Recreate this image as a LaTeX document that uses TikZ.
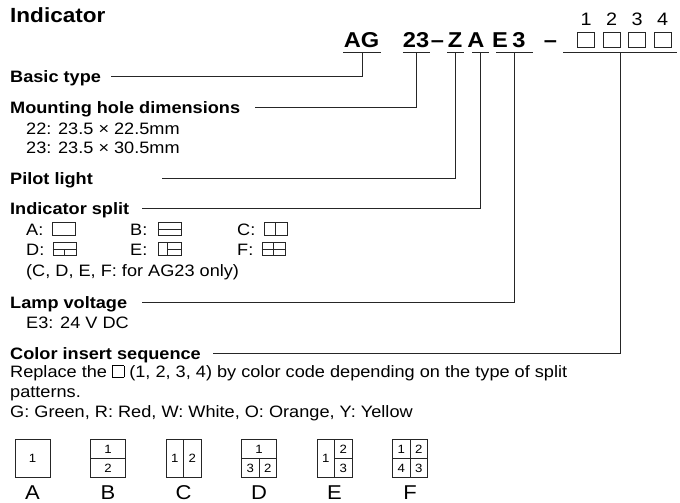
\documentclass[tikz,border=0pt]{standalone}
\usepackage{fontspec}
\setmainfont{Liberation Sans}[FakeStretch=1.1]
\usetikzlibrary{positioning}
\newcommand{\opensq}{{\setlength{\fboxsep}{0pt}\setlength{\fboxrule}{0.6pt}\fbox{\rule{0pt}{11pt}\hspace{11pt}}}}
\tikzset{
  partlabel/.style = {
    font=\bfseries\fontsize{16.5}{19}\selectfont,
    inner sep=0pt,
    text height=11.8pt,
    text depth=0pt,
    anchor=base west
  },
  parttext/.style = {
    font=\fontsize{16.5}{19}\selectfont,
    inner sep=0pt,
    anchor=base west
  },
  codepart/.style = {
    font=\bfseries\fontsize{21.5}{25}\selectfont,
    inner sep=0pt,
    anchor=base
  },
  codeline/.style = {
    inner sep=0pt,
    minimum height=0pt,
    minimum width=#1
  },
  codebox/.style = {
    draw=black!85,
    line width=0.8pt,
    minimum width=17pt,
    minimum height=15pt,
    inner sep=0pt
  },
  leader/.style = {
    draw=black!85,
    line width=1pt
  },
  splitbox/.style = {
    draw=black!85,
    line width=0.8pt,
    minimum width=23pt,
    minimum height=13pt,
    inner sep=0pt
  },
  patbox/.style = {
    draw=black!85,
    line width=0.8pt,
    minimum width=35pt,
    minimum height=38pt,
    inner sep=0pt
  },
  patnum/.style = {
    font=\fontsize{12}{14}\selectfont,
    inner sep=0pt
  },
  patname/.style = {
    font=\fontsize{20}{24}\selectfont,
    inner sep=0pt,
    anchor=base
  }
}

\begin{document}
\begin{tikzpicture}[x=1pt,y=-1pt]
    \useasboundingbox (0,0) rectangle (680,503);
    \node[font=\bfseries\fontsize{20.5}{24}\selectfont, inner sep=0pt, anchor=base west] (title) at (10,23) {Indicator};

    % type code
    \node[codepart] (cAG) at (361.5,48) {AG};
    \node[codepart] (c23) at (416,48) {23};
    \node[codepart] (cdash) at (437.5,48) {–};
    \node[codepart] (cZ) at (455,48) {Z};
    \node[codepart] (cA) at (476,48) {A};
    \node[codepart] (cE) at (500,48) {E};
    \node[codepart] (c3) at (519,48) {3};
    \node[codepart] (cdash2) at (550.5,48) {–};
    \foreach \i in {1,...,4} {
      \node[codebox] (cb\i) at ({586+25.5*(\i-1)},39.5) {};
      \node[font=\fontsize{18}{21}\selectfont, inner sep=0pt, above=6pt of cb\i] (dg\i) {\i};
    }
    \node[codeline=37pt] (ulAG) at (362,53) {};
    \node[codeline=27pt] (ul23) at (416.5,53) {};
    \node[codeline=16pt] (ulZ) at (455.5,53) {};
    \node[codeline=16pt] (ulA) at (480.5,53) {};
    \node[codeline=36pt] (ulE) at (514.5,53) {};
    \node[codeline=113pt] (ulBox) at (620,53) {};
    \foreach \u in {ulAG,ul23,ulZ,ulA,ulE,ulBox}
      \draw[leader] (\u.west) -- (\u.east);

    % items
    \node[partlabel] (basic) at (10,82) {Basic type};
    \node[partlabel] (mount) at (10,113) {Mounting hole dimensions};
    \node[parttext] (mount22) at (26,134) {22: 23.5 × 22.5mm};
    \node[parttext] (mount23) at (26,153) {23: 23.5 × 30.5mm};
    \node[partlabel] (pilot) at (10,184) {Pilot light};
    \node[partlabel] (split) at (10,214) {Indicator split};
    \node[parttext] (labA) at (26,235) {A:};
    \node[parttext] (labB) at (130,235) {B:};
    \node[parttext] (labC) at (237,235) {C:};
    \node[parttext] (labD) at (26,255) {D:};
    \node[parttext] (labE) at (130,255) {E:};
    \node[parttext] (labF) at (237,255) {F:};
    \node[splitbox, right=8pt of labA] (icA) {};
    \node[splitbox, right=10pt of labB] (icB) {};
    \node[splitbox, right=8pt of labC] (icC) {};
    \node[splitbox, right=8pt of labD] (icD) {};
    \node[splitbox, right=10pt of labE] (icE) {};
    \node[splitbox, right=8pt of labF] (icF) {};
    \draw[leader, line width=0.8pt] (icB.west) -- (icB.east);
    \draw[leader, line width=0.8pt] (icC.north) -- (icC.south);
    \draw[leader, line width=0.8pt] (icD.west) -- (icD.east) (icD.center) -- (icD.south);
    \draw[leader, line width=0.8pt] ([xshift=-2pt]icE.north) -- ([xshift=-2pt]icE.south) ([xshift=-2pt]icE.center) -- (icE.east);
    \draw[leader, line width=0.8pt] (icF.west) -- (icF.east) (icF.north) -- (icF.south);
    \node[parttext] (splitnote) at (26,276) {(C, D, E, F: for AG23 only)};
    \node[partlabel] (lamp) at (10,308) {Lamp voltage};
    \node[parttext] (lampE3) at (26,328) {E3: 24 V DC};
    \node[partlabel] (color) at (10,359) {Color insert sequence};
    \node[parttext] (color1) at (10,377) {Replace the \opensq\ (1, 2, 3, 4) by color code depending on the type of split};
    \node[parttext] (color2) at (10,397) {patterns.};
    \node[parttext] (color3) at (10,417) {G: Green, R: Red, W: White, O: Orange, Y: Yellow};

    \draw[leader] ([xshift=10pt]basic.east) -| (ulAG);
    \draw[leader] ([xshift=15pt]mount.east) -| (ul23);
    \draw[leader] ([xshift=69pt]pilot.east) -| (ulZ);
    \draw[leader] ([xshift=13pt]split.east) -| (ulA);
    \draw[leader] ([xshift=15pt]lamp.east) -| (ulE);
    \draw[leader] ([xshift=12pt]color.east) -| (ulBox);

    % split patterns
    \node[patbox] (patA) at (32.5,458.5) {};
    \node[patbox] (patB) at (108,458.5) {};
    \node[patbox] (patC) at (183.5,458.5) {};
    \node[patbox] (patD) at (259,458.5) {};
    \node[patbox] (patE) at (334.5,458.5) {};
    \node[patbox] (patF) at (410,458.5) {};
    \draw[leader, line width=0.8pt] (patB.west) -- (patB.east);
    \draw[leader, line width=0.8pt] (patC.north) -- (patC.south);
    \draw[leader, line width=0.8pt] (patD.west) -- (patD.east) (patD.center) -- (patD.south);
    \draw[leader, line width=0.8pt] (patE.north) -- (patE.south) (patE.center) -- (patE.east);
    \draw[leader, line width=0.8pt] (patF.west) -- (patF.east) (patF.north) -- (patF.south);
    \node[patnum] (nA1) at (patA) {1};
    \node[patnum] (nB1) at ([yshift=9.5pt]patB.center) {1};
    \node[patnum] (nB2) at ([yshift=-9.5pt]patB.center) {2};
    \node[patnum] (nC1) at ([xshift=-8.75pt]patC.center) {1};
    \node[patnum] (nC2) at ([xshift=8.75pt]patC.center) {2};
    \node[patnum] (nD1) at ([yshift=9.5pt]patD.center) {1};
    \node[patnum] (nD3) at ([xshift=-8.75pt,yshift=-9.5pt]patD.center) {3};
    \node[patnum] (nD2) at ([xshift=8.75pt,yshift=-9.5pt]patD.center) {2};
    \node[patnum] (nE1) at ([xshift=-8.75pt]patE.center) {1};
    \node[patnum] (nE2) at ([xshift=8.75pt,yshift=9.5pt]patE.center) {2};
    \node[patnum] (nE3) at ([xshift=8.75pt,yshift=-9.5pt]patE.center) {3};
    \node[patnum] (nF1) at ([xshift=-8.75pt,yshift=9.5pt]patF.center) {1};
    \node[patnum] (nF2) at ([xshift=8.75pt,yshift=9.5pt]patF.center) {2};
    \node[patnum] (nF4) at ([xshift=-8.75pt,yshift=-9.5pt]patF.center) {4};
    \node[patnum] (nF3) at ([xshift=8.75pt,yshift=-9.5pt]patF.center) {3};
    \node[patname] (nameA) at (32.5,499.5) {A};
    \node[patname] (nameB) at (108,499.5) {B};
    \node[patname] (nameC) at (183.5,499.5) {C};
    \node[patname] (nameD) at (259,499.5) {D};
    \node[patname] (nameE) at (334.5,499.5) {E};
    \node[patname] (nameF) at (410,499.5) {F};
\end{tikzpicture}
\end{document}
